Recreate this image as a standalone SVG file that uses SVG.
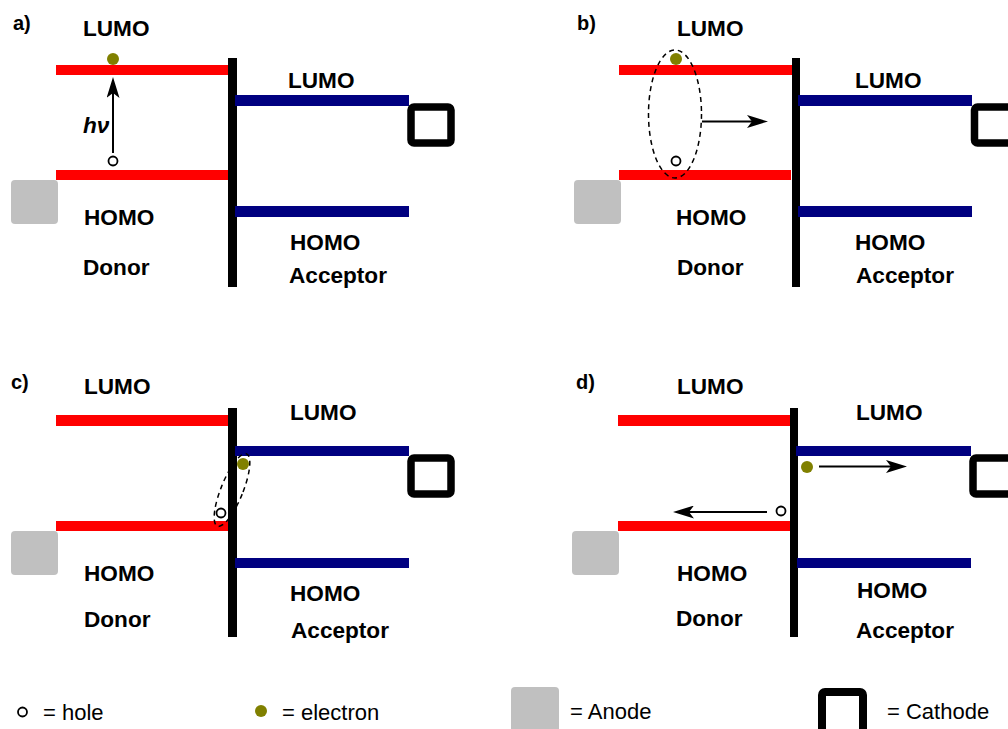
<svg xmlns="http://www.w3.org/2000/svg" width="1008" height="729" viewBox="0 0 1008 729">
<defs>
<style>
.lbl{font-family:"Liberation Sans",Arial,sans-serif;font-weight:bold;font-size:22.6px;fill:#000}
.pl{font-family:"Liberation Sans",Arial,sans-serif;font-weight:bold;font-size:20px;fill:#000}
.leg{font-family:"Liberation Sans",Arial,sans-serif;font-size:22px;fill:#000}
.red{fill:#ff0000}
.blue{fill:#000080}
.wall{fill:#000}
.anode{fill:#c0c0c0}
.cath{fill:none;stroke:#000;stroke-width:7.5}
.el{fill:#808000}
.hole{fill:#fff;stroke:#000;stroke-width:1.8}
.arr{stroke:#000;stroke-width:2;fill:none;marker-end:url(#ah)}
.exc{fill:none;stroke:#000;stroke-width:1.5;stroke-dasharray:5 4}
</style>
<marker id="ah" viewBox="0 0 21 13" refX="11" refY="6.5" markerWidth="21" markerHeight="13" markerUnits="userSpaceOnUse" orient="auto">
<path d="M0,0 L21,6.5 L0,13 L5,6.5 Z" fill="#000"/>
</marker>
</defs>

<g id="panel-a">
<text class="pl" x="13" y="30">a)</text>
<rect class="red" x="56" y="65" width="174" height="10"/>
<rect class="red" x="56" y="170" width="172" height="10"/>
<rect class="wall" x="228" y="58" width="9" height="229"/>
<rect class="blue" x="235" y="95" width="174" height="11"/>
<rect class="blue" x="235" y="206" width="174" height="11"/>
<rect class="anode" x="11" y="180" width="47" height="44" rx="4"/>
<rect class="cath" x="411" y="107" width="40" height="36" rx="3"/>
<text class="lbl" x="83" y="36">LUMO</text>
<text class="lbl" x="288" y="88">LUMO</text>
<text class="lbl" x="84" y="225">HOMO</text>
<text class="lbl" x="290" y="250">HOMO</text>
<text class="lbl" x="83" y="275">Donor</text>
<text class="lbl" x="289" y="283">Acceptor</text>
<text class="lbl" x="83" y="133" font-style="italic">hν</text>
</g>

<g id="panel-b">
<text class="pl" x="577" y="30">b)</text>
<rect class="red" x="619" y="65" width="174" height="10"/>
<rect class="red" x="619" y="170" width="172" height="10"/>
<rect class="wall" x="792" y="58" width="8" height="229"/>
<rect class="blue" x="798" y="95" width="174" height="11"/>
<rect class="blue" x="798" y="206" width="174" height="11"/>
<rect class="anode" x="574" y="180" width="47" height="44" rx="4"/>
<rect class="cath" x="974.5" y="107" width="40" height="36" rx="3"/>
<text class="lbl" x="677" y="36">LUMO</text>
<text class="lbl" x="855" y="88">LUMO</text>
<text class="lbl" x="676" y="225">HOMO</text>
<text class="lbl" x="855" y="250">HOMO</text>
<text class="lbl" x="677" y="275">Donor</text>
<text class="lbl" x="856" y="283">Acceptor</text>
</g>

<g id="panel-c">
<text class="pl" x="11" y="389">c)</text>
<rect class="red" x="56" y="415" width="174" height="11"/>
<rect class="red" x="56" y="521" width="172" height="10"/>
<rect class="wall" x="228" y="408" width="9" height="229"/>
<rect class="blue" x="235" y="446" width="174" height="10"/>
<rect class="blue" x="235" y="558" width="174" height="10"/>
<rect class="anode" x="11" y="531" width="47" height="44" rx="4"/>
<rect class="cath" x="411" y="458" width="40" height="36" rx="3"/>
<text class="lbl" x="84" y="394">LUMO</text>
<text class="lbl" x="290" y="420">LUMO</text>
<text class="lbl" x="84" y="581">HOMO</text>
<text class="lbl" x="290" y="601">HOMO</text>
<text class="lbl" x="84" y="627">Donor</text>
<text class="lbl" x="291" y="638">Acceptor</text>
</g>

<g id="panel-d">
<text class="pl" x="576" y="389">d)</text>
<rect class="red" x="618" y="415" width="174" height="11"/>
<rect class="red" x="618" y="521" width="173" height="10"/>
<rect class="wall" x="790" y="408" width="8" height="229"/>
<rect class="blue" x="796" y="446" width="175" height="10"/>
<rect class="blue" x="797" y="558" width="174" height="10"/>
<rect class="anode" x="572" y="531" width="47" height="44" rx="4"/>
<rect class="cath" x="973" y="458" width="40" height="36" rx="3"/>
<text class="lbl" x="677" y="394">LUMO</text>
<text class="lbl" x="856" y="420">LUMO</text>
<text class="lbl" x="677" y="581">HOMO</text>
<text class="lbl" x="857" y="598">HOMO</text>
<text class="lbl" x="676" y="626">Donor</text>
<text class="lbl" x="856" y="638">Acceptor</text>
</g>

<g id="connectors">
<line class="arr" x1="113" y1="153" x2="113" y2="87"/>
<line class="arr" x1="702" y1="121.5" x2="758" y2="121.5"/>
<line class="arr" x1="819" y1="466.5" x2="897" y2="466.5"/>
<line class="arr" x1="767" y1="512" x2="683" y2="512"/>
<ellipse class="exc" cx="675" cy="114" rx="26.5" ry="64"/>
<ellipse class="exc" cx="232" cy="490" rx="11" ry="39" transform="rotate(22 232 490)"/>
</g>

<g id="carriers">
<circle class="el" cx="113" cy="59" r="6"/>
<circle class="hole" cx="113" cy="161" r="4.5"/>
<circle class="el" cx="676" cy="59" r="6"/>
<circle class="hole" cx="676" cy="161" r="4.5"/>
<circle class="el" cx="243" cy="464" r="6"/>
<circle class="hole" cx="221" cy="513" r="4.5"/>
<circle class="el" cx="807" cy="467" r="6"/>
<circle class="hole" cx="781" cy="511" r="4.5"/>
</g>

<g id="legend">
<circle class="hole" cx="22.5" cy="712" r="4.5"/>
<text class="leg" x="43" y="720">= hole</text>
<circle class="el" cx="261" cy="711" r="6"/>
<text class="leg" x="282" y="720">= electron</text>
<rect class="anode" x="511" y="687" width="48" height="46" rx="4"/>
<text class="leg" x="570" y="719">= Anode</text>
<rect class="cath" x="822" y="692" width="41" height="42" rx="3" style="stroke-width:8"/>
<text class="leg" x="887" y="719">= Cathode</text>
</g>
</svg>
